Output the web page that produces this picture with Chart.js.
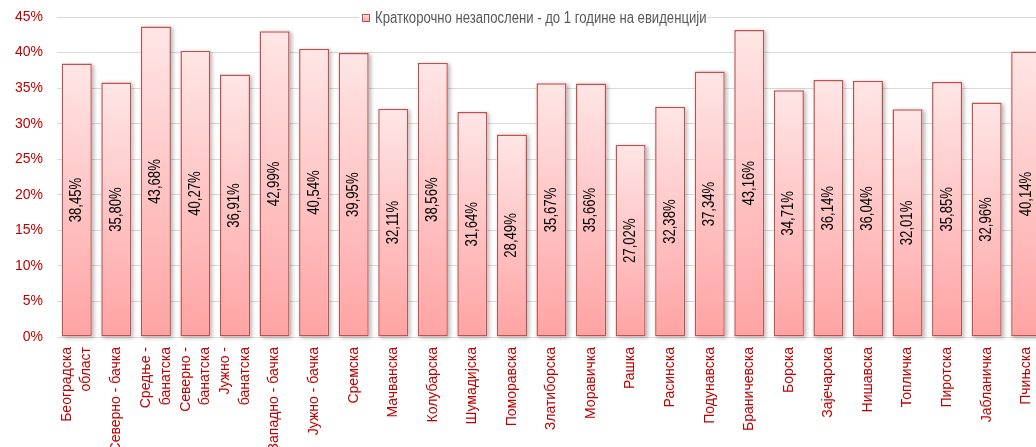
<!DOCTYPE html>
<html>
<head>
<meta charset="utf-8">
<script src="https://cdn.jsdelivr.net/npm/chart.js@4/dist/chart.umd.min.js"></script>
<style>
  html, body { margin: 0; padding: 0; background: #ffffff; overflow: hidden; }
  #wrap { width: 1050px; height: 447px; }
</style>
</head>
<body>
<div id="wrap"><canvas id="c" width="1050" height="447"></canvas></div>
<script>
const categories = [
  ["Београдска", "област"],
  "Северно - бачка",
  ["Средње -", "банатска"],
  ["Северно -", "банатска"],
  ["Јужно -", "банатска"],
  "Западно - бачка",
  "Јужно - бачка",
  "Сремска",
  "Мачванска",
  "Колубарска",
  "Шумадијска",
  "Поморавска",
  "Златиборска",
  "Моравичка",
  "Рашка",
  "Расинска",
  "Подунавска",
  "Браничевска",
  "Борска",
  "Зајечарска",
  "Нишавска",
  "Топличка",
  "Пиротска",
  "Јабланичка",
  "Пчињска"
];
const seriesName = "Краткорочно незапослени - до 1 године на евиденцији";
const shortTermShare = [
  38.45, 35.80, 43.68, 40.27, 36.91, 42.99, 40.54, 39.95, 32.11, 38.56,
  31.64, 28.49, 35.67, 35.66, 27.02, 32.38, 37.34, 43.16, 34.71, 36.14,
  36.04, 32.01, 35.85, 32.96, 40.14
];
const yTickValues = [0, 5, 10, 15, 20, 25, 30, 35, 40, 45];

const FONT = "'Liberation Sans Narrow', 'Arial Narrow', 'Liberation Sans', Arial, sans-serif";
const RED = '#c00000';
const BORDER = '#c0504d';
const TOP_COL = '#ffe6e6';
const BOT_COL = '#ffa3a3';
const NARROW = 0.82;

function fmt(v) { return v.toFixed(2).replace('.', ',') + '%'; }

const shadowPlugin = {
  id: 'barShadow',
  beforeDatasetsDraw(chart) {
    const ctx = chart.ctx;
    const meta = chart.getDatasetMeta(0);
    ctx.save();
    ctx.shadowColor = 'rgba(0,0,0,0.28)';
    ctx.shadowBlur = 4;
    ctx.shadowOffsetX = 2;
    ctx.shadowOffsetY = 1;
    ctx.fillStyle = '#ffffff';
    meta.data.forEach(b => {
      const p = b.getProps(['x', 'y', 'base', 'width'], true);
      ctx.fillRect(p.x - p.width / 2, p.y, p.width, p.base - p.y);
    });
    ctx.restore();
  }
};

const valueLabels = {
  id: 'valueLabels',
  afterDatasetsDraw(chart) {
    const ctx = chart.ctx;
    const meta = chart.getDatasetMeta(0);
    ctx.save();
    ctx.font = '16px ' + FONT;
    ctx.fillStyle = '#000000';
    ctx.textAlign = 'center';
    ctx.textBaseline = 'middle';
    meta.data.forEach((b, i) => {
      const p = b.getProps(['x', 'y', 'base'], true);
      ctx.save();
      ctx.translate(p.x, (p.y + p.base) / 2);
      ctx.rotate(-Math.PI / 2);
      ctx.scale(NARROW, 1);
      ctx.fillText(fmt(shortTermShare[i]), 0, 0);
      ctx.restore();
    });
    ctx.restore();
  }
};

const centerMultiline = {
  id: 'centerMultiline',
  beforeDraw(chart) {
    const sc = chart.scales.x;
    if (!sc || !sc.getLabelItems) return;
    const items = sc.getLabelItems();
    items.forEach(it => {
      if (Array.isArray(it.label) && it.label.length > 1 && !it._shifted && it.options && it.options.translation) {
        it.options.translation[0] -= it.font.lineHeight * (it.label.length - 1) / 2;
        it._shifted = true;
      }
    });
  }
};

const topLegend = {
  id: 'topLegend',
  afterDraw(chart) {
    const ctx = chart.ctx;
    ctx.save();
    ctx.font = '16px ' + FONT;
    const tw = ctx.measureText(seriesName).width * NARROW;
    const bx = 362, cy = 18;
    ctx.fillStyle = '#ffffff';
    ctx.fillRect(bx - 3, cy - 9, 13 + tw + 4, 18);
    const g = ctx.createLinearGradient(0, cy - 4, 0, cy + 4);
    g.addColorStop(0, TOP_COL);
    g.addColorStop(1, BOT_COL);
    ctx.fillStyle = g;
    ctx.fillRect(bx, cy - 4, 8, 8);
    ctx.strokeStyle = BORDER;
    ctx.lineWidth = 1;
    ctx.strokeRect(bx + 0.5, cy - 3.5, 7, 7);
    ctx.fillStyle = '#595959';
    ctx.textAlign = 'left';
    ctx.textBaseline = 'middle';
    ctx.translate(bx + 13, cy + 1);
    ctx.scale(NARROW, 1);
    ctx.fillText(seriesName, 0, 0);
    ctx.restore();
  }
};

new Chart(document.getElementById('c'), {
  type: 'bar',
  data: {
    labels: categories,
    datasets: [{
      label: seriesName,
      data: shortTermShare,
      backgroundColor(context) {
        const chart = context.chart;
        if (!chart.chartArea || context.raw === undefined) return '#ffc4c4';
        const y = chart.scales.y;
        const top = y.getPixelForValue(context.raw);
        const bottom = y.getPixelForValue(0);
        const g = chart.ctx.createLinearGradient(0, top, 0, bottom);
        g.addColorStop(0, TOP_COL);
        g.addColorStop(1, BOT_COL);
        return g;
      },
      borderColor: BORDER,
      borderWidth: 1.5,
      borderSkipped: false,
      categoryPercentage: 1,
      barPercentage: 0.76
    }]
  },
  options: {
    responsive: false,
    animation: false,
    events: [],
    layout: { padding: { top: 17, right: 4, bottom: 0, left: 0 } },
    plugins: {
      legend: { display: false },
      tooltip: { enabled: false },
      title: { display: false }
    },
    scales: {
      x: {
        grid: { display: false, drawTicks: false },
        border: { display: false },
        ticks: {
          color: RED,
          font: { family: FONT, size: 14, lineHeight: 1.4 },
          minRotation: 90,
          maxRotation: 90,
          autoSkip: false,
          padding: 10
        },
        afterFit(scale) {
          scale.height = 110;
          scale.paddingLeft = 0;
          scale.paddingRight = 0;
        }
      },
      y: {
        min: 0,
        max: 45,
        afterBuildTicks(scale) { scale.ticks = yTickValues.map(v => ({ value: v })); },
        grid: { color: '#d9d9d9', lineWidth: 1, drawTicks: false },
        border: { display: false },
        ticks: {
          color: RED,
          font: { family: FONT, size: 14 },
          padding: 14,
          callback: v => v + '%'
        },
        afterFit(scale) {
          scale.width = 57;
          scale.paddingTop = 0;
          scale.paddingBottom = 0;
        }
      }
    }
  },
  plugins: [shadowPlugin, valueLabels, centerMultiline, topLegend]
});
</script>
</body>
</html>
